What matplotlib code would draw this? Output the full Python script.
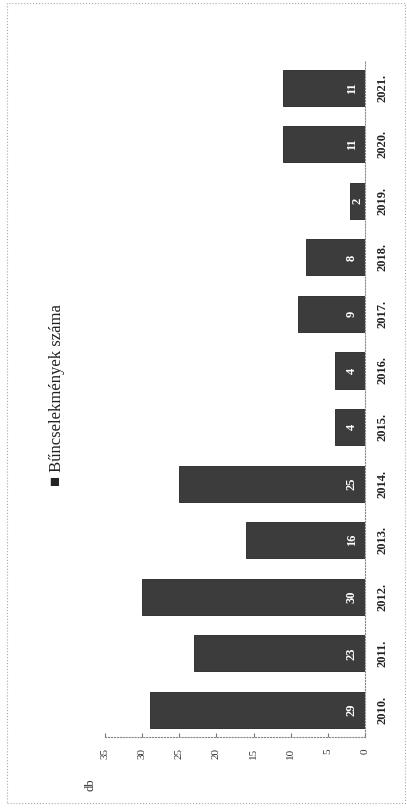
import matplotlib.pyplot as plt
from matplotlib.patches import Rectangle

# adatok (a kép 90 fokkal elforgatva)
evek = ['2010.', '2011.', '2012.', '2013.', '2014.', '2015.',
        '2016.', '2017.', '2018.', '2019.', '2020.', '2021.']
ertekek = [29, 23, 30, 16, 25, 4, 4, 9, 8, 2, 11, 11]
tengely_ticks = [0, 5, 10, 15, 20, 25, 30, 35]
sorozat_nev = 'Bűncselekmények száma'

SERIF = ['Liberation Serif', 'DejaVu Serif']
BAR_COLOR = '#3c3c3c'

fig = plt.figure(figsize=(4.07, 8.08), dpi=100)
ax = fig.add_axes([105 / 407, 71 / 808, 260 / 407, 677 / 808])

pos = list(range(len(evek)))
ax.barh(pos, ertekek, height=0.64, color=BAR_COLOR, edgecolor='#222222', linewidth=0.6)

ax.set_xlim(35, 0)
ax.set_ylim(-0.48, len(evek) - 0.51)

# értékfeliratok az oszlopok tövénél
for p, v in zip(pos, ertekek):
    ax.text(min(1.75, v / 2), p, str(v), rotation=90, ha='center', va='center',
            color='white', fontsize=9, fontweight='bold', family=SERIF)

ax.set_xticks(tengely_ticks)
ax.set_xticklabels([str(t) for t in tengely_ticks], rotation=90, fontsize=8,
                   family=SERIF, color='#333333')
ax.tick_params(axis='x', direction='in', length=3, color='#777777', pad=8)

ax.yaxis.tick_right()
ax.set_yticks(pos)
ax.set_yticklabels(evek, rotation=90, va='center', fontsize=9, fontweight='bold',
                   family=SERIF, color='#222222')
ax.tick_params(axis='y', length=0, pad=8)

for s in ['top', 'left']:
    ax.spines[s].set_visible(False)
for s in ['bottom', 'right']:
    ax.spines[s].set_color('#888888')
    ax.spines[s].set_linewidth(0.8)
    ax.spines[s].set_linestyle(':')

# jelmagyarázat és tengelycím
fig.text(57 / 407, 1 - 395 / 808, '■ ' + sorozat_nev, rotation=90, ha='center', va='center',
         fontsize=12, family=['Liberation Serif', 'DejaVu Sans'], color='#222222')
fig.text(90 / 407, 1 - 785 / 808, 'db', rotation=90, ha='center', va='center',
         fontsize=9, family=SERIF, color='#333333')

# szaggatott keret
fig.patches.append(Rectangle((7 / 407, 5 / 808), 398 / 407, 800 / 808,
                             transform=fig.transFigure, fill=False,
                             edgecolor='#aaaaaa', linestyle=':', linewidth=0.8))

fig.savefig('out.png', dpi=100)
